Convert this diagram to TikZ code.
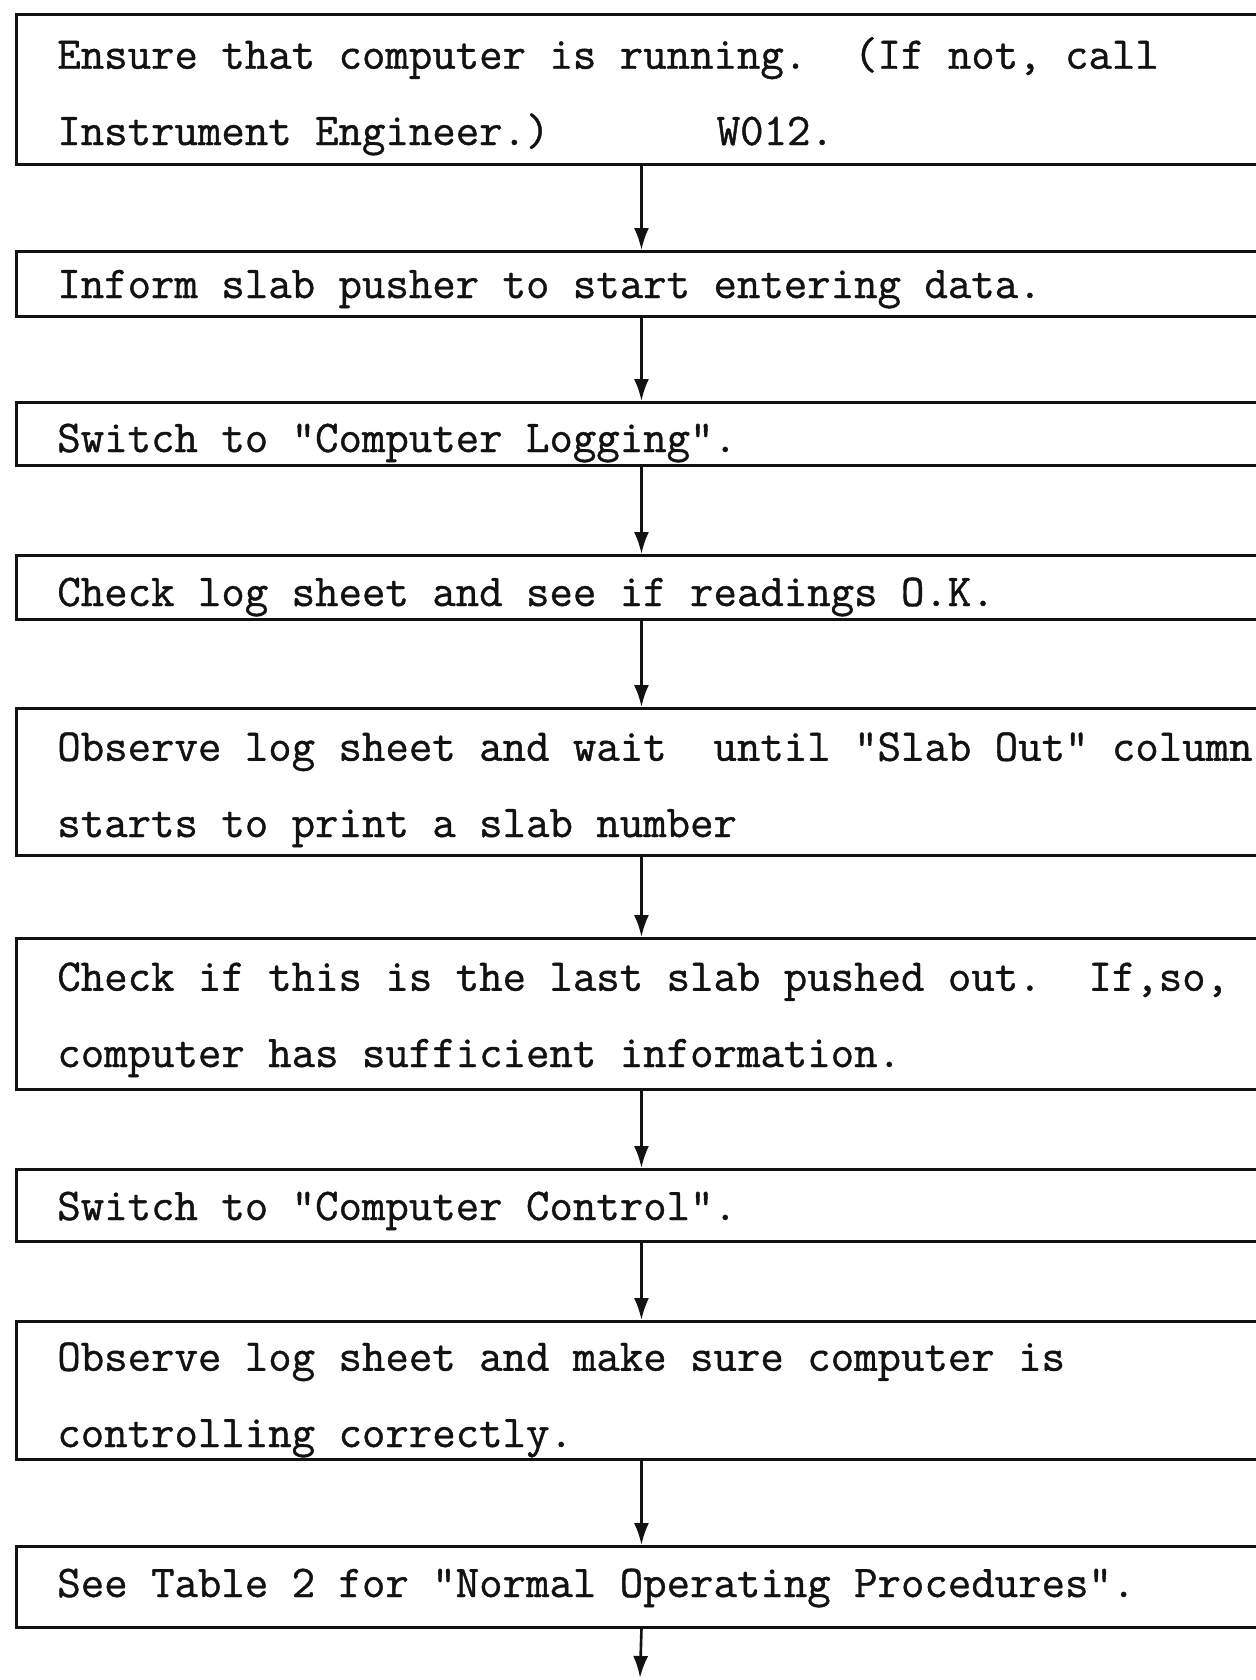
\documentclass[tikz,border=0pt]{standalone}
\usepackage{fontspec}
\usepackage{tikz}
\usetikzlibrary{arrows.meta}
\newfontfamily\typefont[UprightFeatures={FakeBold=0.9}]{Latin Modern Mono}
\newcommand{\procfont}{\typefont\fontsize{25.9}{43.4}\selectfont}
\definecolor{TintaNegra}{RGB}{18,18,18}

\begin{document}
\begin{tikzpicture}[x=0.02cm,y=-0.02cm,>={Latex[length=0.44cm,width=0.3cm]},
  procbox/.style={draw=TintaNegra,line width=1.8pt,minimum width=25cm,inner sep=0pt,anchor=north west},
  proctext/.style={anchor=base west,inner sep=0pt,align=left,text=TintaNegra,font=\procfont},
  flow/.style={->,draw=TintaNegra,line width=1.5pt}]
  \useasboundingbox (0,0) rectangle (1256,1680);
  \clip (0,0) rectangle (1256,1680);
  % cajas (el borde derecho queda fuera de la hoja)
  \node[procbox,minimum height=3.00cm] (b1) at (15,13) {};
  \node[procbox,minimum height=1.30cm] (b2) at (15,250) {};
  \node[procbox,minimum height=1.26cm] (b3) at (15,401) {};
  \node[procbox,minimum height=1.28cm] (b4) at (15,554) {};
  \node[procbox,minimum height=2.94cm] (b5) at (15,707) {};
  \node[procbox,minimum height=3.02cm] (b6) at (15,937) {};
  \node[procbox,minimum height=1.44cm] (b7) at (15,1168) {};
  \node[procbox,minimum height=2.76cm] (b8) at (15,1320) {};
  \node[procbox,minimum height=1.62cm] (b9) at (15,1545) {};
  \coordinate (fin) at (640,1678);
  % textos (base = ultima linea)
  \node[proctext] (t1) at (57,145) {Ensure that computer is running.\ \ (If not, call\\Instrument Engineer.)\hspace{3.675em}W012.};
  \node[proctext] (t2) at (57,298) {Inform slab pusher to start entering data.};
  \node[proctext] (t3) at (57,452) {Switch to "Computer Logging".};
  \node[proctext] (t4) at (57,606) {Check log sheet and see if readings O.K.};
  \node[proctext] (t5) at (57,837) {Observe log sheet and wait\ \ until "Slab Out" column\\starts to print a slab number};
  \node[proctext] (t6) at (57,1067) {Check if this is the last slab pushed out.\ \ If,so,\\computer has sufficient information.};
  \node[proctext] (t7) at (57,1220) {Switch to "Computer Control".};
  \node[proctext] (t8) at (57,1447) {Observe log sheet and make sure computer is\\controlling correctly.};
  \node[proctext] (t9) at (57,1597) {See Table 2 for "Normal Operating Procedures".};
  % flechas
  \draw[flow] (b1.south) -- (b2.north);
  \draw[flow] (b2.south) -- (b3.north);
  \draw[flow] (b3.south) -- (b4.north);
  \draw[flow] (b4.south) -- (b5.north);
  \draw[flow] (b5.south) -- (b6.north);
  \draw[flow] (b6.south) -- (b7.north);
  \draw[flow] (b7.south) -- (b8.north);
  \draw[flow] (b8.south) -- (b9.north);
  \draw[flow] (b9.south) -- (fin);
\end{tikzpicture}
\end{document}
